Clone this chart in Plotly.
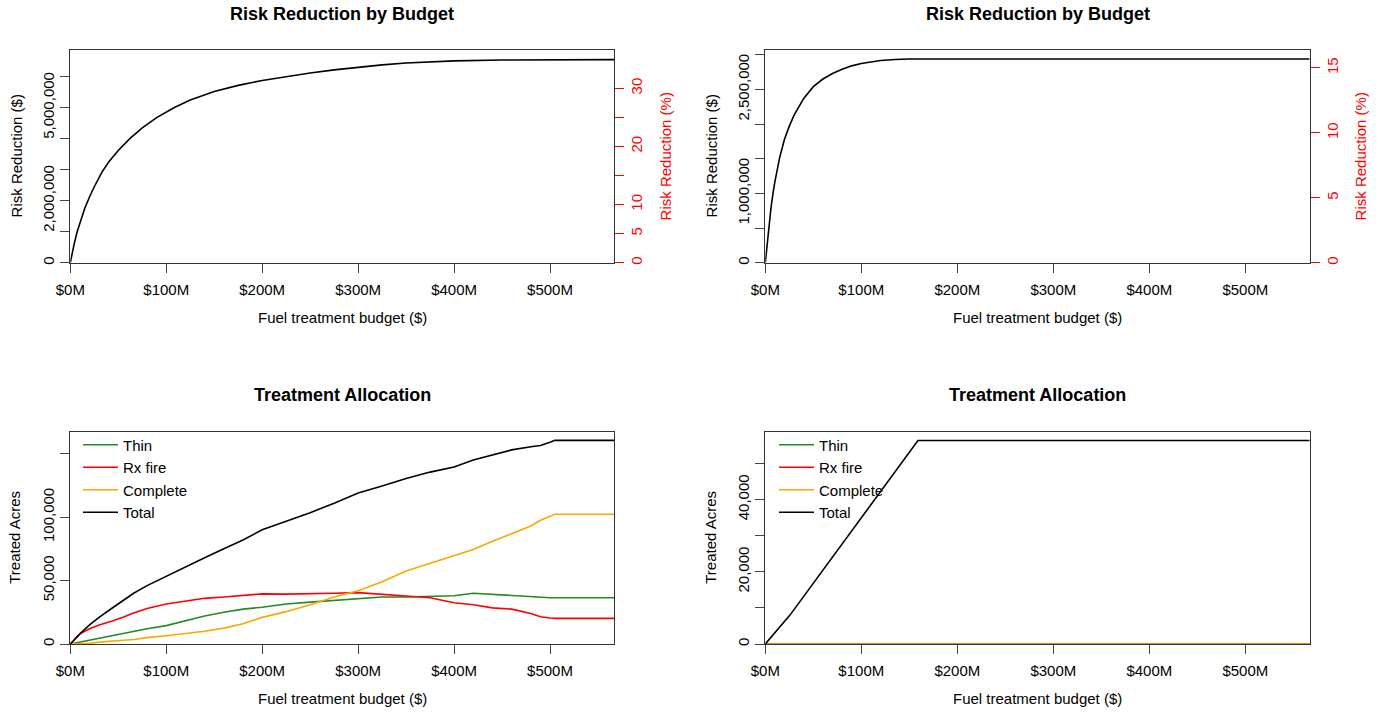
import plotly.graph_objects as go

W, H = 1380, 712

# ---------------- data ----------------
# Top-left: risk reduction by budget (budget in $M, risk reduction in $M)
tl_budget = [0, 2, 4, 7, 10, 15, 20, 25, 33, 40, 50, 62, 75, 90, 108, 125, 150, 175, 200,
             224, 250, 275, 300, 325, 350, 375, 400, 450, 500, 567]
tl_rr = [0.0, 0.32, 0.6, 0.98, 1.3, 1.75, 2.12, 2.45, 2.92, 3.25, 3.62, 4.0, 4.35, 4.68, 5.0,
         5.25, 5.52, 5.72, 5.88, 6.0, 6.12, 6.22, 6.31, 6.38, 6.44, 6.48, 6.51, 6.54, 6.55, 6.55]

# Top-right
tr_budget = [0, 2, 4, 6, 8, 10, 15, 20, 25, 30, 40, 50, 60, 70, 80, 90, 100, 110, 120, 135, 150, 567]
tr_rr = [0.0, 0.3, 0.56, 0.8, 1.0, 1.17, 1.52, 1.78, 1.97, 2.13, 2.37, 2.54, 2.65, 2.73, 2.79,
         2.84, 2.875, 2.9, 2.918, 2.932, 2.938, 2.938]

# total baseline risk ($M) used for the percent axis
total_risk_tl = 18.75
total_risk_tr = 18.73

# Bottom-left: treatment allocation (thousand acres)
bl_budget = [0, 10, 20, 30, 43, 55, 66, 80, 100, 120, 140, 160, 180, 200, 225, 250, 275, 300,
             325, 350, 375, 400, 420, 440, 460, 480, 490, 500, 505, 567]
bl_thin = [0, 1.5, 3, 4.5, 6.5, 8.5, 10, 12, 14.5, 18.5, 22, 25, 27.5, 29, 31.5, 33, 34.5, 36,
           37, 37, 37.5, 38, 40, 39, 38.5, 37, 36.5, 36.5, 36.5, 36.5]
bl_rx = [0, 8, 12, 15, 18, 21, 24.5, 28, 31.5, 34, 36, 37, 38.5, 39.5, 39.3, 39.4, 40, 40.5,
         39, 37.5, 36.5, 32.5, 31, 28.5, 27.5, 24, 21.5, 20.5, 20.2, 20.2]
bl_complete = [0, 0, 0.5, 1.5, 2.5, 3, 3.5, 5, 6.5, 8, 10, 12.5, 16, 21, 25.5, 31, 37, 42,
               49, 57.5, 63.5, 70, 74.5, 81, 87, 93, 97.5, 100.5, 102.3, 102.3]
bl_total = [0, 8, 15, 21, 28, 34, 40, 46, 53.5, 60.5, 68, 75, 82, 90, 96.5, 103.5, 111, 119,
            124.5, 130.5, 135.5, 139.5, 145, 149, 153, 155.5, 156.5, 159, 160.5, 160.5]

# Bottom-right
br_budget = [0, 567]
br_thin = [0, 0]
br_rx = [0, 0]
br_complete = [0, 0]
br_total_budget = [0, 25.7, 159, 567]
br_total = [0, 8.0, 56.36, 56.36]

x_ticks = [0, 100, 200, 300, 400, 500]
x_ticktext = ["$0M", "$100M", "$200M", "$300M", "$400M", "$500M"]

tl_yticks = [0, 1e6, 2e6, 3e6, 4e6, 5e6, 6e6]
tl_ytext = ["0", "", "2,000,000", "", "", "5,000,000", ""]
tr_yticks = [0, 5e5, 1e6, 1.5e6, 2e6, 2.5e6, 3e6]
tr_ytext = ["0", "", "1,000,000", "", "", "2,500,000", ""]
tl_pticks = [0, 5, 10, 15, 20, 25, 30]
tl_ptext = ["0", "5", "10", "", "20", "", "30"]
tr_pticks = [0, 5, 10, 15]
tr_ptext = ["0", "5", "10", "15"]
bl_yticks = [0, 50000, 100000, 150000]
bl_ytext = ["0", "50,000", "100,000", ""]
br_yticks = [0, 10000, 20000, 30000, 40000, 50000]
br_ytext = ["0", "", "20,000", "", "40,000", ""]

series_names = ["Thin", "Rx fire", "Complete", "Total"]
series_colors = ["#228B22", "#FF0000", "#FFA500", "#000000"]

# ---------------- layout geometry (pixels) ----------------
FONT = "Liberation Sans, Arial, sans-serif"
FS = 15
XL = (70.3, 614.3)
XR = (765.3, 1309.7)
YT = (50.2, 262.7)
YB = (431.5, 644.0)


def px(a, b):
    return [a / W, b / W]


def py(top, bottom):
    return [1 - bottom / H, 1 - top / H]


fig = go.Figure()

# top-left
fig.add_trace(go.Scatter(x=tl_budget, y=[v * 1e6 for v in tl_rr], mode="lines",
                         line=dict(color="black", width=1.6), xaxis="x", yaxis="y", showlegend=False))
# top-right
fig.add_trace(go.Scatter(x=tr_budget, y=[v * 1e6 for v in tr_rr], mode="lines",
                         line=dict(color="black", width=1.6), xaxis="x2", yaxis="y3", showlegend=False))
# invisible anchors for the percent axes
fig.add_trace(go.Scatter(x=[0], y=[0], mode="lines", line=dict(width=0), xaxis="x", yaxis="y2",
                         showlegend=False, hoverinfo="skip", opacity=0))
fig.add_trace(go.Scatter(x=[0], y=[0], mode="lines", line=dict(width=0), xaxis="x2", yaxis="y4",
                         showlegend=False, hoverinfo="skip", opacity=0))

# bottom-left
for name, col, vals in zip(series_names, series_colors, [bl_thin, bl_rx, bl_complete, bl_total]):
    fig.add_trace(go.Scatter(x=bl_budget, y=[v * 1000 for v in vals], mode="lines", name=name,
                             line=dict(color=col, width=1.6), xaxis="x3", yaxis="y5",
                             legend="legend"))
# bottom-right
br_sets = [(br_budget, br_thin), (br_budget, br_rx), (br_budget, br_complete),
           (br_total_budget, [v * 1000 for v in br_total])]
for name, col, (bx, by) in zip(series_names, series_colors, br_sets):
    fig.add_trace(go.Scatter(x=bx, y=by, mode="lines", name=name,
                             line=dict(color=col, width=1.6), xaxis="x4", yaxis="y6",
                             legend="legend2"))

axis_common = dict(showgrid=False, zeroline=False, showline=True, linecolor="#333333",
                   linewidth=1, ticks="outside", ticklen=9, tickcolor="#444444", tickwidth=1,
                   tickfont=dict(family=FONT, size=FS, color="black"), mirror=True,
                   automargin=False)

xcommon = dict(axis_common, range=[0, 567], tickvals=x_ticks, ticktext=x_ticktext,
               ticklabelstandoff=4)

pct_common = dict(showgrid=False, zeroline=False, showline=False, side="right",
                  ticks="outside", ticklen=9, tickcolor="red", automargin=False,
                  tickfont=dict(family=FONT, size=FS, color="red"), tickangle=-90)

legend_common = dict(xanchor="left", yanchor="top", bgcolor="rgba(0,0,0,0)", borderwidth=0,
                     font=dict(family=FONT, size=FS, color="black"), tracegroupgap=0,
                     itemwidth=35)

fig.update_layout(
    template="none",
    width=W, height=H,
    margin=dict(l=0, r=0, t=0, b=0, autoexpand=False),
    paper_bgcolor="white", plot_bgcolor="white",
    font=dict(family=FONT, size=FS, color="black"),
    xaxis=dict(xcommon, domain=px(*XL), anchor="y"),
    yaxis=dict(axis_common, domain=py(*YT), anchor="x", range=[0, 6.855e6],
               tickvals=tl_yticks, ticktext=tl_ytext, tickangle=-90),
    yaxis2=dict(pct_common, overlaying="y", anchor="x",
                range=[0, 6.855 / total_risk_tl * 100], tickvals=tl_pticks, ticktext=tl_ptext),
    xaxis2=dict(xcommon, domain=px(*XR), anchor="y3"),
    yaxis3=dict(axis_common, domain=py(*YT), anchor="x2", range=[0, 3.066e6],
                tickvals=tr_yticks, ticktext=tr_ytext, tickangle=-90),
    yaxis4=dict(pct_common, overlaying="y3", anchor="x2",
                range=[0, 3.066 / total_risk_tr * 100], tickvals=tr_pticks, ticktext=tr_ptext),
    xaxis3=dict(xcommon, domain=px(*XL), anchor="y5"),
    yaxis5=dict(axis_common, domain=py(*YB), anchor="x3", range=[0, 167500],
                tickvals=bl_yticks, ticktext=bl_ytext, tickangle=-90),
    xaxis4=dict(xcommon, domain=px(*XR), anchor="y6"),
    yaxis6=dict(axis_common, domain=py(*YB), anchor="x4", range=[0, 58860],
                tickvals=br_yticks, ticktext=br_ytext, tickangle=-90, layer="below traces"),
    legend=dict(legend_common, x=78 / W, y=1 - 428.5 / H),
    legend2=dict(legend_common, x=774 / W, y=1 - 428.5 / H),
)

ann = []


def add_text(text, xpx, ypx, size=FS, bold=False, color="black", angle=0):
    ann.append(dict(text=f"<b>{text}</b>" if bold else text, x=xpx / W, y=1 - ypx / H,
                    xref="paper", yref="paper", xanchor="center", yanchor="middle",
                    showarrow=False, textangle=angle,
                    font=dict(family=FONT, size=size, color=color)))


# titles
add_text("Risk Reduction by Budget", (XL[0] + XL[1]) / 2, 14, size=18, bold=True)
add_text("Risk Reduction by Budget", (XR[0] + XR[1]) / 2, 14, size=18, bold=True)
add_text("Treatment Allocation", (XL[0] + XL[1]) / 2, 395, size=18, bold=True)
add_text("Treatment Allocation", (XR[0] + XR[1]) / 2, 395, size=18, bold=True)
# x titles
for xc in [(XL[0] + XL[1]) / 2, (XR[0] + XR[1]) / 2]:
    add_text("Fuel treatment budget ($)", xc, 318)
    add_text("Fuel treatment budget ($)", xc, 698)
# y titles
add_text("Risk Reduction ($)", 16, (YT[0] + YT[1]) / 2, angle=-90)
add_text("Risk Reduction ($)", 711, (YT[0] + YT[1]) / 2, angle=-90)
add_text("Risk Reduction (%)", 665, (YT[0] + YT[1]) / 2, color="red", angle=-90)
add_text("Risk Reduction (%)", 1360, (YT[0] + YT[1]) / 2, color="red", angle=-90)
add_text("Treated Acres", 15, (YB[0] + YB[1]) / 2, angle=-90)
add_text("Treated Acres", 711, (YB[0] + YB[1]) / 2, angle=-90)

fig.update_layout(annotations=ann)

fig.write_html("out.html", config={"displayModeBar": False},
               post_script="document.body.style.margin='0';")
